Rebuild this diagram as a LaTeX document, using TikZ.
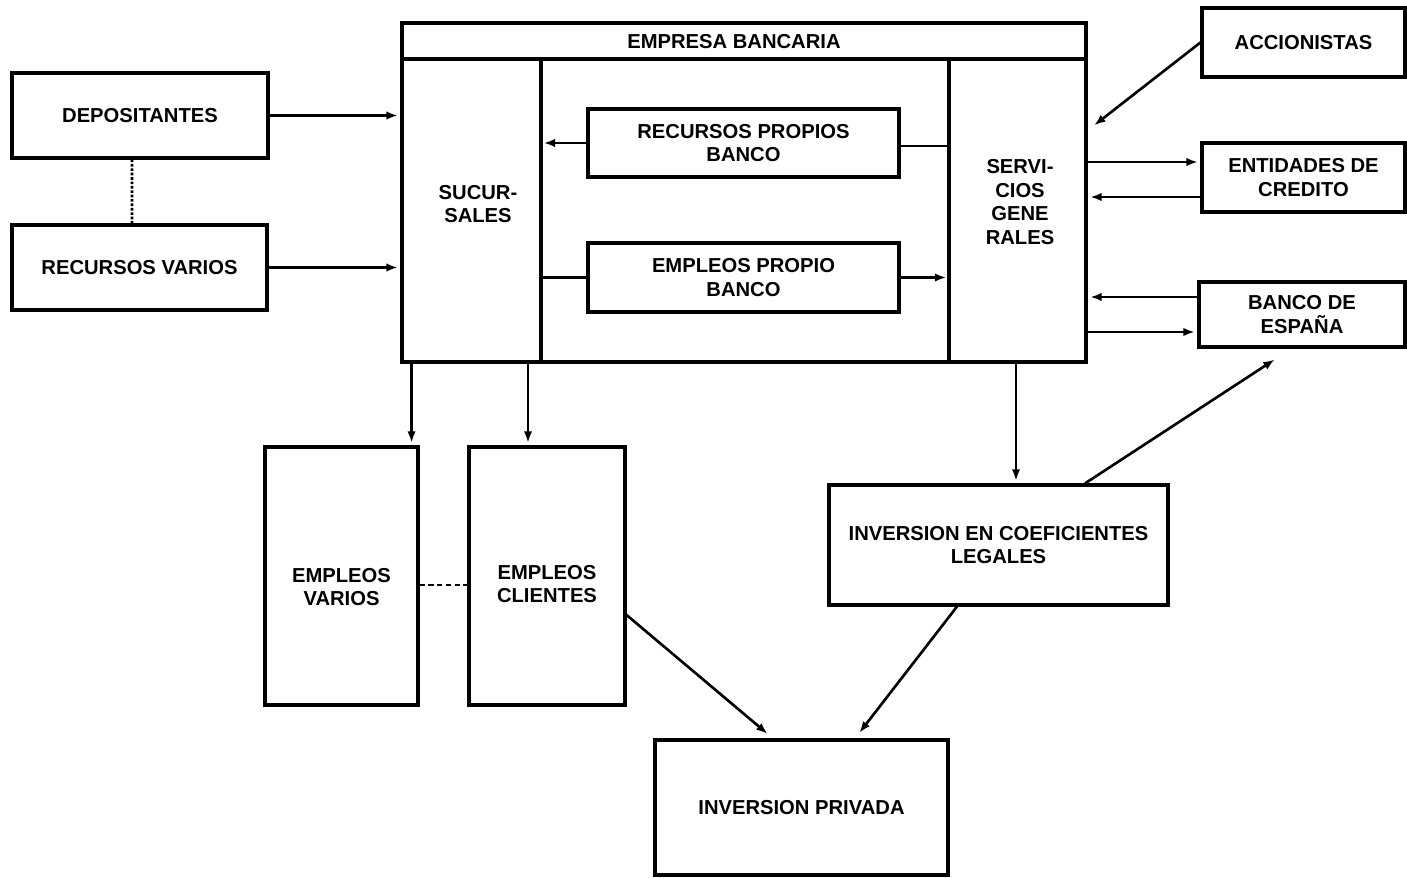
\documentclass[tikz,border=0pt]{standalone}
\usepackage{fontspec}
\setmainfont{Liberation Sans}
\usetikzlibrary{calc,arrows.meta}
\newcommand{\BoxFont}{\fontsize{11.5}{13.6}\selectfont\bfseries}
\tikzset{
  caja/.style={draw, line width=1.8pt, align=center, font=\BoxFont, inner sep=0pt},
  flecha/.style={line width=1.5pt, -{Latex[length=2.3mm,width=1.7mm]}, shorten >=1.5pt},
  linea/.style={line width=1.5pt}
}

\begin{document}
\begin{tikzpicture}[x=0.02cm,y=-0.02cm]
\useasboundingbox (0,0) rectangle (1407,878);
% empresa bancaria
\node[caja,minimum width=13.68cm,minimum height=6.78cm] (bank) at (744,192.5) {};
\node[font=\BoxFont] (empTit) at (734,42) {EMPRESA BANCARIA};
\coordinate (divL) at (541,59);
\coordinate (divR) at (949,59);
\draw[line width=1.8pt] (bank.west |- divL) -- (bank.east |- divL);
\draw[line width=1.8pt] (divL) -- (divL |- bank.south);
\draw[line width=1.8pt] (divR) -- (divR |- bank.south);
\node[font=\BoxFont,align=center] (suc) at (478,204) {SUCUR-\\SALES};
\node[font=\BoxFont,align=center] (serv) at (1020,202) {SERVI-\\CIOS\\GENE\\RALES};
\node[caja,minimum width=6.22cm,minimum height=1.36cm] (rpb) at (743.5,143) {RECURSOS PROPIOS\\BANCO};
\node[caja,minimum width=6.22cm,minimum height=1.38cm] (epb) at (743.5,277.5) {EMPLEOS PROPIO\\BANCO};
% izquierda
\node[caja,minimum width=5.12cm,minimum height=1.7cm] (dep) at (140,115.5) {DEPOSITANTES};
\node[caja,minimum width=5.1cm,minimum height=1.7cm] (rv) at (139.5,267.5) {RECURSOS VARIOS};
% derecha
\node[caja,minimum width=4.06cm,minimum height=1.38cm] (acc) at (1303.5,42.5) {ACCIONISTAS};
\node[caja,minimum width=4.06cm,minimum height=1.38cm] (ent) at (1303.5,177.5) {ENTIDADES DE\\CREDITO};
\node[caja,minimum width=4.12cm,minimum height=1.3cm] (bde) at (1302,314.5) {BANCO DE\\ESPAÑA};
% abajo
\node[caja,minimum width=3.06cm,minimum height=5.16cm,
  label={[yshift=-0.22cm,font=\BoxFont,align=center]center:EMPLEOS\\VARIOS}] (ev) at (341.5,576) {};
\node[caja,minimum width=3.12cm,minimum height=5.16cm,
  label={[yshift=-0.16cm,font=\BoxFont,align=center]center:EMPLEOS\\CLIENTES}] (ec) at (547,576) {};
\node[caja,minimum width=6.78cm,minimum height=2.4cm] (icl) at (998.5,545) {INVERSION EN COEFICIENTES\\LEGALES};
\node[caja,minimum width=5.86cm,minimum height=2.7cm] (ip) at (801.5,807.5) {INVERSION PRIVADA};
\coordinate (accIn) at (1092,127);
\coordinate (bdeIn) at (1277,358);

% conexiones
\draw[flecha] (dep.east) -- (dep.east -| bank.west);
\draw[flecha] (rv.east) -- (rv.east -| bank.west);
\draw[linea,densely dotted] ([xshift=-0.16cm]dep.south) -- ([xshift=-0.15cm]rv.north);
\draw[flecha] (rpb.west) -- (rpb.west -| divL);
\draw[linea] ([yshift=-0.06cm]rpb.east) -- ([yshift=-0.06cm]rpb.east -| divR);
\draw[linea] (epb.west -| divL) -- (epb.west);
\draw[flecha] (epb.east) -- (epb.east -| divR);
\draw[flecha] (acc.west) -- (accIn);
\draw[flecha] ([yshift=0.31cm]ent.west -| bank.east) -- ([yshift=0.31cm]ent.west);
\draw[flecha] ([yshift=-0.39cm]ent.west) -- ([yshift=-0.39cm]ent.west -| bank.east);
\draw[flecha] ([yshift=0.35cm]bde.west) -- ([yshift=0.35cm]bde.west -| bank.east);
\draw[flecha] ([yshift=-0.35cm]bde.west -| bank.east) -- ([yshift=-0.35cm]bde.west);
\draw[flecha] ([xshift=-0.16cm]ev.north east |- bank.south) -- ([xshift=-0.16cm]ev.north east);
\draw[flecha] ([xshift=-0.38cm]ec.north |- bank.south) -- ([xshift=-0.38cm]ec.north);
\draw[linea,densely dashed] ([yshift=-0.18cm]ev.east) -- ([yshift=-0.18cm]ec.west);
\draw[flecha] ([xshift=0.35cm]icl.north |- bank.south) -- ([xshift=0.35cm]icl.north);
\draw[flecha] ([xshift=1.73cm]icl.north) -- (bdeIn);
\draw[flecha,shorten >=4pt] ([xshift=-0.83cm]icl.south) -- ([xshift=1.07cm]ip.north);
\draw[flecha,shorten >=4pt] ([yshift=-0.78cm]ec.east) -- ([xshift=-0.57cm]ip.north);
\end{tikzpicture}
\end{document}
